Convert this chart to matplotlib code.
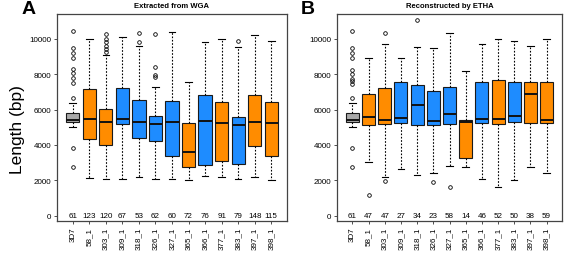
import numpy as np
import matplotlib
matplotlib.use("Agg")
import matplotlib.pyplot as plt

plt.rcParams['font.family'] = ['Liberation Sans', 'DejaVu Sans']

isolates = ['3D7', '58_1', '303_1', '309_1', '318_1', '326_1', '327_1',
            '365_1', '366_1', '377_1', '383_1', '397_1', '398_1']
groups = ['ref', 'o', 'o', 'b', 'b', 'b', 'b', 'o', 'b', 'o', 'b', 'o', 'o']

# panel A: extracted from WGA
a_q1 = [5315, 4360, 4010, 5180, 4395, 4220, 3380, 2730, 2860, 3110, 2940, 3950, 3360]
a_med = [5390, 5450, 5280, 5450, 5315, 5200, 5315, 3590, 5370, 5220, 5140, 5315, 5260]
a_q3 = [5800, 7160, 6045, 7240, 6525, 5660, 6470, 5260, 6850, 6430, 5585, 6850, 6410]
a_lo = [4990, 2110, 2050, 2100, 2200, 2100, 2100, 2000, 2250, 2200, 2100, 2200, 2000]
a_hi = [6370, 10000, 9080, 10100, 9575, 7290, 10400, 7540, 9820, 10000, 9540, 10200, 9850]
a_out = [[10440, 9500, 9210, 8920, 8290, 8060, 7770, 7480, 6660, 3840, 2780],
         [], [10250, 10000, 9800, 9600, 9400, 9250], [], [10300, 9820],
         [10250, 8400, 7930, 7850], [], [], [], [], [9850], [], []]
a_n = [61, 123, 120, 67, 53, 62, 60, 72, 76, 91, 79, 148, 115]

# panel B: reconstructed by ETHA
b_q1 = [5315, 5140, 5160, 5240, 5140, 5100, 5200, 3240, 5220, 5180, 5300, 5260, 5240]
b_med = [5390, 5600, 5390, 5510, 6240, 5330, 5775, 5280, 5490, 5470, 5660, 6890, 5430]
b_q3 = [5800, 6890, 7200, 7580, 7390, 7040, 7270, 5390, 7540, 7675, 7580, 7580, 7580]
b_lo = [4990, 3030, 2170, 2630, 2280, 2440, 2820, 2750, 2100, 1650, 2000, 2750, 2400]
b_hi = [6370, 8920, 9690, 8885, 9540, 9500, 10300, 8160, 9700, 10000, 9900, 9600, 10000]
b_out = [[10440, 9500, 9210, 8885, 8230, 8000, 7730, 7620, 7430, 6660, 3840, 2780],
         [1150], [10300, 1975], [], [11040], [1900], [1610], [], [], [], [], [], []]
b_n = [61, 47, 47, 27, 34, 23, 58, 14, 46, 52, 50, 38, 59]

fill = {'ref': '#a9a9a9', 'o': '#ff8c00', 'b': '#1e8cff'}


def panel(ax, q1, med, q3, lo, hi, out, n, title):
    stats = []
    for i in range(len(isolates)):
        stats.append(dict(q1=q1[i], med=med[i], q3=q3[i], whislo=lo[i],
                          whishi=hi[i], fliers=out[i], label=isolates[i]))
    pos = np.arange(1, len(isolates) + 1)
    bp = ax.bxp(stats, positions=pos, widths=0.8, patch_artist=True,
                boxprops=dict(edgecolor='#1a1a1a', linewidth=0.8),
                medianprops=dict(color='#111111', linewidth=1.4),
                whiskerprops=dict(color='black', linewidth=0.8, linestyle=(0, (1.5, 1.5))),
                capprops=dict(color='black', linewidth=0.8),
                flierprops=dict(marker='o', markersize=2.6, markerfacecolor='none',
                                markeredgecolor='black', markeredgewidth=0.6))
    for patch, g in zip(bp['boxes'], groups):
        patch.set_facecolor(fill[g])
    for x, c in zip(pos, n):
        ax.text(x, 0, str(c), ha='center', va='center', fontsize=5.8)
    ax.set_xlim(0.05, 13.95)
    ax.set_ylim(-300, 11400)
    ax.set_yticks([0, 2000, 4000, 6000, 8000, 10000])
    ax.set_xticks(pos)
    ax.set_xticklabels(isolates, rotation=90)
    ax.tick_params(labelsize=5.8, length=2.5, width=0.6, pad=1.5, color='#333333')
    for s in ax.spines.values():
        s.set_color('#444444')
        s.set_linewidth(0.9)
    ax.set_title(title, fontsize=5.5, fontweight='bold', pad=5)


fig = plt.figure(figsize=(5.67, 2.55), dpi=100)
axA = fig.add_axes([57 / 567, 33 / 255, 230 / 567, 207 / 255])
axB = fig.add_axes([337 / 567, 33 / 255, 225 / 567, 207 / 255])

panel(axA, a_q1, a_med, a_q3, a_lo, a_hi, a_out, a_n, 'Extracted from WGA')
panel(axB, b_q1, b_med, b_q3, b_lo, b_hi, b_out, b_n, 'Reconstructed by ETHA')

fig.text(18 / 567, 1 - 130 / 255, 'Length (bp)', rotation=90, ha='center', va='center',
         fontsize=12.5)
fig.text(22 / 567, 1 - 10 / 255, 'A', fontsize=14, fontweight='bold', ha='left', va='center')
fig.text(301 / 567, 1 - 10 / 255, 'B', fontsize=14, fontweight='bold', ha='left', va='center')

fig.savefig('out.png', dpi=100)
